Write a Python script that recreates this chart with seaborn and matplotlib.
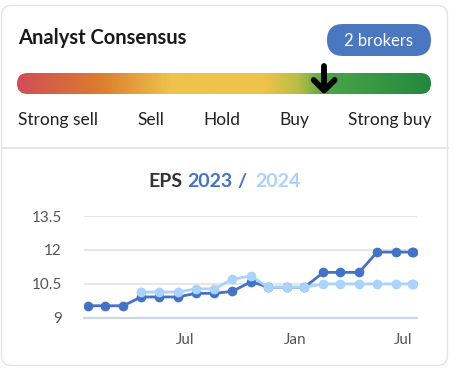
import pandas as pd
import numpy as np
import matplotlib
matplotlib.use("Agg")
import matplotlib.pyplot as plt
import matplotlib.dates as mdates
from matplotlib.patches import FancyBboxPatch
from matplotlib.colors import LinearSegmentedColormap
import seaborn as sns

# 데이터
dates = ["2023-01-18", "2023-02-17", "2023-03-19", "2023-04-18", "2023-05-18",
         "2023-06-18", "2023-07-19", "2023-08-19", "2023-09-18", "2023-10-20",
         "2023-11-17", "2023-12-18", "2024-01-17", "2024-02-18", "2024-03-17",
         "2024-04-18", "2024-05-18", "2024-06-18", "2024-07-15", "2024-07-18"]
eps_2023 = [9.52, 9.52, 9.52, 9.91, 9.91, 9.91, 10.07, 10.07, 10.16, 10.59,
            10.34, 10.34, 10.34, 11.0, 11.0, 11.0, 11.9, 11.9, 11.9, 11.9]
eps_2024 = [None, None, None, 10.13, 10.13, 10.13, 10.27, 10.27, 10.7, 10.84,
            10.34, 10.34, 10.34, 10.49, 10.49, 10.49, 10.49, 10.49, 10.49, 10.49]
y_ticks = [9, 10.5, 12, 13.5]
x_ticks = ["2023-07-01", "2024-01-01", "2024-07-01"]
rating_labels = ["Strong sell", "Sell", "Hold", "Buy", "Strong buy"]
consensus_pos = 0.742  # 게이지 위 화살표 위치 (0~1)
n_brokers = 2

df = pd.DataFrame({"date": pd.to_datetime(dates), "eps_2023": eps_2023, "eps_2024": eps_2024})

sns.set_theme(style="white")
plt.rcParams["font.family"] = ["Lato", "DejaVu Sans"]

W, H = 457, 368
fig = plt.figure(figsize=(W / 100, H / 100), dpi=100)
fig.patch.set_facecolor("white")

# 카드 배경 (픽셀 좌표)
bg = fig.add_axes([0, 0, 1, 1])
bg.set_xlim(0, W)
bg.set_ylim(H, 0)
bg.axis("off")

card = FancyBboxPatch((1.5, 5.5), 446, 360, boxstyle="round,pad=0,rounding_size=10",
                      fc="white", ec="#e3e3e3", lw=1, zorder=0)
bg.add_patch(card)
bg.plot([1.5, 447.5], [148, 148], color="#e6e6e6", lw=1.5)

bg.text(18, 44, "Analyst Consensus", fontsize=14.5, fontweight="bold", color="#1a1a1a")

pill = FancyBboxPatch((327, 24), 104, 32, boxstyle="round,pad=0,rounding_size=16",
                      fc="#4a77bf", ec="none")
bg.add_patch(pill)
bg.text(379, 40.5, f"{n_brokers} brokers", fontsize=12, color="white", ha="center", va="center")

# 그라데이션 게이지
cmap = LinearSegmentedColormap.from_list("consensus", [
    (0.0, "#d14d57"), (0.2, "#db7d2e"), (0.37, "#eec24b"), (0.6, "#efc24b"),
    (0.68, "#b8bd45"), (0.75, "#4aa548"), (1.0, "#23883f")])
bar_x0, bar_x1, bar_y0, bar_y1 = 17, 431, 73, 94
grad = np.linspace(0, 1, 512).reshape(1, -1)
im = bg.imshow(grad, cmap=cmap, aspect="auto", extent=(bar_x0, bar_x1, bar_y1, bar_y0), zorder=2)
clip = FancyBboxPatch((bar_x0, bar_y0), bar_x1 - bar_x0, bar_y1 - bar_y0,
                      boxstyle="round,pad=0,rounding_size=10.5", fc="none", ec="none")
bg.add_patch(clip)
im.set_clip_path(clip)
bg.set_xlim(0, W)
bg.set_ylim(H, 0)

# 컨센서스 화살표
ax_x = bar_x0 + consensus_pos * (bar_x1 - bar_x0)
bg.plot([ax_x, ax_x], [66, 90], color="black", lw=4.2, solid_capstyle="round", zorder=3)
bg.plot([ax_x - 10.5, ax_x, ax_x + 10.5], [80, 90.5, 80], color="black", lw=4.2,
        solid_capstyle="round", solid_joinstyle="round", zorder=3)

label_x = [18, 137, 203, 279, 431]
for i, (lab, lx) in enumerate(zip(rating_labels, label_x)):
    bg.text(lx, 125, lab, fontsize=12.5, color="#222222", ha="right" if i == 4 else "left")

# EPS 제목 (색상 분리)
bg.text(148, 187, "EPS", fontsize=14, fontweight="bold", color="#333333")
bg.text(187, 187, "2023", fontsize=14, fontweight="bold", color="#4472c4")
bg.text(237, 187, "/", fontsize=14, fontweight="bold", color="#4472c4")
bg.text(255, 187, "2024", fontsize=14, fontweight="bold", color="#a9d2fd")

# EPS 차트
ax = fig.add_axes([84 / W, (H - 317.5) / H, (417 - 84) / W, (317.5 - 216) / H])
ax.set_facecolor("none")
sns.lineplot(data=df, x="date", y="eps_2023", ax=ax, color="#4472c4", marker="o",
             markersize=7, markeredgewidth=0, lw=2)
sns.lineplot(data=df.dropna(), x="date", y="eps_2024", ax=ax, color="#a9d2fd", marker="o",
             markersize=7, markeredgewidth=0, lw=2)

ax.set_xlim(pd.Timestamp("2023-01-12"), pd.Timestamp("2024-07-24"))
ax.set_ylim(9, 13.5)
ax.set_yticks(y_ticks)
ax.set_yticklabels(["9", "10.5", "12", "13.5"])
ax.set_xticks(pd.to_datetime(x_ticks))
ax.xaxis.set_major_formatter(mdates.DateFormatter("%b"))
ax.set_xlabel("")
ax.set_ylabel("")
ax.grid(axis="y", color="#e6e6e6", lw=1.5)
ax.set_axisbelow(True)
for s in ["top", "left", "right"]:
    ax.spines[s].set_visible(False)
ax.spines["bottom"].set_color("#ccd6eb")
ax.spines["bottom"].set_linewidth(1.5)
ax.tick_params(axis="x", length=8, width=1, color="#ccd6eb", pad=3, labelsize=11, labelcolor="#555555")
ax.tick_params(axis="y", length=0, pad=16, labelsize=11, labelcolor="#555555")
ax.get_legend() and ax.get_legend().remove()

fig.savefig("out.png", dpi=100)
